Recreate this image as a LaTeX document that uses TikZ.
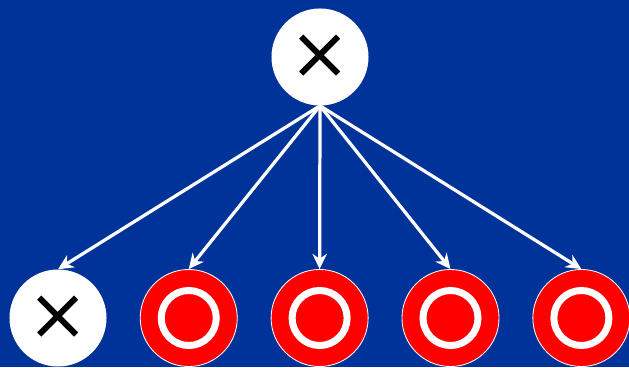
\documentclass[tikz,border=0pt]{standalone}
\usepackage{fontspec}
\usepackage{xcolor}
\newfontfamily\crossfont{DejaVu Sans}
\usetikzlibrary{arrows.meta,positioning}
\definecolor{bgblue}{HTML}{003399}

\begin{document}
\begin{tikzpicture}[
        x=0.025cm, y=-0.025cm,
        node distance=0.825cm,
        crossnode/.style={circle, fill=white, minimum size=2.425cm, inner sep=0pt, font=\crossfont\fontsize{52}{52}\selectfont},
        ringnode/.style={circle, fill=red, draw=white, line width=0.6pt, minimum size=2.425cm, inner sep=0pt,
            path picture={\draw[white, line width=0.175cm] (path picture bounding box.center) circle (0.6875cm);}},
        arrow/.style={-{Stealth[length=0.38cm, width=0.36cm]}, line width=2.3pt, draw=white}
    ]
        % Background
        \clip (0,0) rectangle (629,367);
        \fill[bgblue] (0,0) rectangle (629,367);
        
        % Nodes
        \node[crossnode] (root) at (320,57) {×};
        \node[crossnode] (leaf1) at (58,318) {×};
        \node[ringnode, right=of leaf1] (leaf2) {};
        \node[ringnode, right=of leaf2] (leaf3) {};
        \node[ringnode, right=of leaf3] (leaf4) {};
        \node[ringnode, right=of leaf4] (leaf5) {};
        
        % Arrows
        \foreach \n in {1,...,5}
            \draw[arrow] (root.south) -- (leaf\n.north);
    \end{tikzpicture}
\end{document}
